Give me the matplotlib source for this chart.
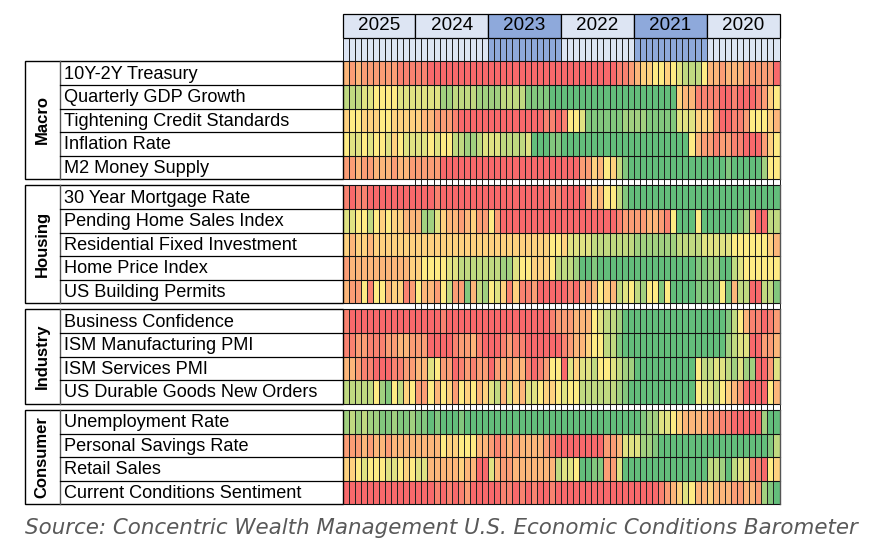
import numpy as np
import matplotlib
matplotlib.use("Agg")
import matplotlib.pyplot as plt
from matplotlib.colors import LinearSegmentedColormap
from matplotlib.patches import Rectangle

years = ["2025", "2024", "2023", "2022", "2021", "2020"]
groups = ["Macro", "Housing", "Industry", "Consumer"]
macro_labels = ["10Y-2Y Treasury", "Quarterly GDP Growth", "Tightening Credit Standards", "Inflation Rate", "M2 Money Supply"]
housing_labels = ["30 Year Mortgage Rate", "Pending Home Sales Index", "Residential Fixed Investment", "Home Price Index", "US Building Permits"]
industry_labels = ["Business Confidence", "ISM Manufacturing PMI", "ISM Services PMI", "US Durable Goods New Orders"]
consumer_labels = ["Unemployment Rate", "Personal Savings Rate", "Retail Sales", "Current Conditions Sentiment"]

# Scores: 0 = red, 5 = yellow, 10 = green, 72 months newest to oldest
treasury = [3,2,3,2,2,2,2,2,2,1,1,1, 1,1,0,0,0,0,0,0,0,0,0,0, 0,0,0,0,0,0,0,0,0,0,0,0, 0,0,0,0,0,0,0,0,0,1,1,2, 3,4,4,5,5,4,5,6,7,7,7,5, 3,3,2,3,3,3,2,2,2,2,2,0]
gdp = [7,7,7,6,6,5,5,5,5,6,6,6, 6,6,6,6,8,8,7,7,7,7,8,8, 8,8,7,7,7,7,9,9,9,9,10,10, 10,10,10,10,10,10,10,10,10,10,10,10, 10,10,10,10,10,10,10,4,3,3,1,1, 1,1,0,0,1,0,0,0,1,2,4,5]
credit = [4,5,5,4,4,4,5,5,4,4,4,4, 4,3,3,2,2,2,1,0,0,0,0,0, 0,0,0,0,0,0,0,0,0,1,1,0, 1,5,5,6,9,9,9,9,9,9,8,8, 8,8,9,9,9,9,9,6,6,6,4,4, 4,2,0,0,1,1,2,5,5,5,4,3]
inflation = [5,6,6,5,6,5,5,6,4,5,6,6, 6,6,5,6,5,5,7,7,8,8,7,6, 6,6,7,7,7,7,6,10,10,10,9,9, 10,10,10,10,10,10,10,10,10,10,10,10, 10,10,10,10,10,10,10,10,10,5,3,2, 2,1,2,2,1,1,0,0,0,2,4,5]
m2 = [2,2,3,2,2,3,3,3,2,3,3,2, 2,2,2,2,0,0,0,0,0,0,0,0, 0,0,0,0,0,0,0,0,0,0,0,0, 0,0,0,2,2,4,3,5,4,7,9,10, 10,10,10,10,10,10,10,10,10,10,10,10, 10,10,10,9,10,10,10,10,10,8,5,5]

mortgage = [1,0,1,1,0,0,0,0,0,0,0,0, 0,0,0,1,0,0,0,0,0,0,0,0, 0,0,0,0,0,0,0,0,0,0,1,1, 0,0,0,0,2,4,3,5,5,7,9,10, 10,10,10,10,10,10,10,10,10,10,10,10, 10,10,10,10,10,10,10,10,10,10,10,10]
pending = [6,6,5,5,7,5,4,5,4,4,3,3, 3,8,8,6,4,3,3,2,3,4,2,2, 5,2,0,0,0,0,0,0,0,0,0,0, 0,0,0,0,0,0,0,0,0,1,2,2, 2,2,3,3,2,1,5,10,10,10,5,10, 10,10,10,10,10,9,8,3,0,0,7,7]
residential = [4,3,4,4,3,4,4,4,4,4,4,4, 4,4,4,4,4,4,4,4,4,4,4,4, 4,4,4,4,4,4,4,4,4,4,5,5, 4,6,6,6,6,7,7,7,7,7,7,7, 8,8,8,8,8,8,8,7,7,7,7,6, 6,6,6,6,5,5,5,5,5,5,4,3]
home_price = [2,3,3,3,3,3,3,3,3,3,3,4, 4,5,5,5,5,6,6,7,7,7,7,7, 7,7,8,8,6,5,5,4,4,4,5,7, 7,7,8,10,10,9,10,10,10,10,10,10, 10,10,10,10,10,10,10,10,10,10,9,9, 8,8,10,10,7,6,5,5,5,5,5,5]
permits = [3,2,2,5,1,5,5,3,4,4,1,2, 5,3,3,2,5,7,2,2,9,3,7,8, 5,6,4,1,4,1,1,2,0,0,0,0, 0,1,0,3,2,3,5,4,3,7,6,5, 7,8,5,5,9,5,10,10,10,10,9,9, 9,9,5,9,3,7,7,0,0,7,7,9]

confidence = [1,0,0,0,0,0,0,0,0,0,0,0, 0,0,0,0,1,0,0,0,0,0,0,0, 0,0,0,0,0,0,0,0,0,0,1,2, 2,2,3,3,3,5,6,7,7,8,10,10, 10,10,10,10,10,10,10,10,10,10,10,10, 10,10,10,9,7,5,3,1,1,0,1,2]
ism_mfg = [1,1,2,2,1,1,1,2,2,3,3,2, 2,2,0,0,0,0,1,2,2,3,1,0, 0,0,1,2,1,1,0,0,0,0,0,0, 1,2,3,3,4,5,5,7,7,9,10,10, 10,10,10,10,10,10,10,10,10,10,10,10, 10,10,10,8,7,6,6,0,0,2,2,3]
ism_svc = [3,3,2,1,1,0,0,0,1,1,2,2, 3,3,6,5,2,2,0,1,2,1,2,2, 0,2,3,2,3,3,1,0,1,2,5,5, 0,6,4,6,6,7,5,5,6,7,8,8, 10,10,10,10,10,10,10,10,10,10,5,7, 7,6,6,7,8,6,8,8,0,0,2,6]
durable = [7,7,7,7,7,5,8,9,5,7,4,5, 2,2,5,3,5,4,2,5,4,5,3,4, 6,7,3,6,4,3,6,6,5,4,4,5, 6,5,5,7,7,7,7,7,7,8,9,10, 10,10,10,10,10,10,10,10,10,10,5,6, 6,7,5,4,3,2,0,0,0,0,5,3]

unemployment = [8,7,8,7,8,8,9,9,8,9,9,8, 9,9,10,9,10,10,10,9,10,10,10,10, 10,10,10,10,10,10,10,10,10,10,10,10, 10,10,10,10,10,10,10,10,10,10,10,10, 10,9,8,8,6,6,5,4,3,3,3,3, 2,2,1,1,0,0,0,0,0,8,10,10]
savings = [2,2,2,3,2,3,3,2,3,3,3,3, 3,3,3,3,5,4,4,5,5,5,3,3, 2,1,2,3,2,3,3,3,3,2,1,0, 0,0,0,0,0,0,0,2,2,3,6,6, 6,8,8,9,10,10,10,10,10,10,10,10, 10,10,10,10,10,10,10,10,10,10,9,7]
retail = [4,4,5,6,5,5,5,6,6,5,4,5, 6,6,3,3,3,3,3,4,3,3,0,0, 6,3,2,2,3,3,3,3,3,3,3,7, 6,6,5,10,10,9,9,2,2,6,10,10, 10,10,10,10,10,10,10,10,10,10,10,10, 7,7,8,10,7,6,6,1,1,0,5,4]
sentiment = [0,0,0,0,0,0,0,0,0,0,0,0, 0,0,0,1,0,1,0,1,2,0,0,0, 0,0,1,1,0,1,0,1,0,0,1,0, 0,0,0,0,0,0,0,0,0,0,0,0, 0,0,0,0,1,2,3,4,6,5,3,3, 4,3,3,3,2,2,3,3,2,8,9,10]

group_labels = [macro_labels, housing_labels, industry_labels, consumer_labels]
group_values = [[treasury, gdp, credit, inflation, m2],
                [mortgage, pending, residential, home_price, permits],
                [confidence, ism_mfg, ism_svc, durable],
                [unemployment, savings, retail, sentiment]]

cmap = LinearSegmentedColormap.from_list("rg", ["#F8696B", "#FFEB84", "#63BE7B"])

W, H = 871, 546
fig = plt.figure(figsize=(W / 100, H / 100), dpi=100, facecolor="white")
plt.rcParams["font.family"] = ["Liberation Sans", "DejaVu Sans"]
ax = fig.add_axes([0, 0, 1, 1])
ax.set_xlim(0, W)
ax.set_ylim(H, 0)
ax.axis("off")

X0, X1 = 342.5, 779.5
n_months = len(treasury)
xe = np.linspace(X0, X1, n_months + 1)
row_edges = [[61, 85, 108.5, 132, 155.5, 179],
             [185, 209, 232.5, 256, 279.5, 303],
             [309, 333, 356.5, 380, 403.5],
             [410, 433.5, 457, 480.5, 504]]
LW = 0.72


def vline(x, a, b, z=3):
    ax.plot([x, x], [a, b], color="#222222", lw=LW, zorder=z, solid_capstyle="butt", snap=True)


# headers
for i, y in enumerate(years):
    x0, x1 = xe[i * 12], xe[(i + 1) * 12]
    fc = "#8EA9DB" if y in ("2023", "2021") else "#DDE5F3"
    ax.add_patch(Rectangle((x0, 14), x1 - x0, 23.5, fc=fc, ec="black", lw=0.9, zorder=3))
    ax.add_patch(Rectangle((x0, 37.5), x1 - x0, 23.5, fc=fc, ec="none", zorder=1))
    ax.text((x0 + x1) / 2, 26, y, ha="center", va="center", fontsize=13.6, color="black", zorder=4)

# month grid lines in header and through gaps
for j, x in enumerate(xe):
    vline(x, 37.5, 61)
    if j >= 12:
        for a, b in [(179, 185), (303, 309), (403.5, 410)]:
            vline(x, a, b)

for g, (name, labels, values, ye) in enumerate(zip(groups, group_labels, group_values, row_edges)):
    ax.pcolormesh(xe, ye, np.array(values, dtype=float), cmap=cmap, vmin=0, vmax=10, zorder=2)
    for x in xe:
        vline(x, ye[0], ye[-1])
    for y in ye:
        ax.plot([X0, X1], [y, y], color="#111111", lw=0.8, zorder=4, snap=True)
    # label cells
    ax.add_patch(Rectangle((25, ye[0]), X0 - 25, ye[-1] - ye[0], fc="white", ec="black", lw=1.0, zorder=3))
    ax.plot([60, 60], [ye[0], ye[-1]], color="#555555", lw=1.0, zorder=4)
    for k, lab in enumerate(labels):
        if k:
            ax.plot([60, X0], [ye[k], ye[k]], color="black", lw=0.9, zorder=4)
        ax.text(63.5, (ye[k] + ye[k + 1]) / 2 + 1.2, lab, ha="left", va="center",
                fontsize=13.05, color="black", zorder=5)
    ax.text(42, (ye[0] + ye[-1]) / 2, name, rotation=90, ha="center", va="center",
            fontsize=12, fontweight="bold", color="black", zorder=5)
    ax.plot([X1, X1], [ye[0], ye[-1]], color="#555555", lw=1.0, zorder=4)

ax.text(25, 527.5, "Source: Concentric Wealth Management U.S. Economic Conditions Barometer",
        family="DejaVu Sans", style="italic", fontsize=15.4, color="#595959", ha="left", va="center")

fig.savefig("out.png", dpi=100, facecolor="white")
